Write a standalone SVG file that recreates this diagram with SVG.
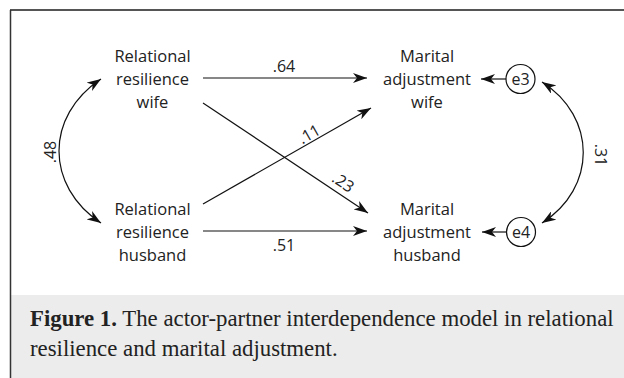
<svg xmlns="http://www.w3.org/2000/svg" width="624" height="378" viewBox="0 0 624 378">
<defs>
<style>
.n{font-family:"Open Sans","Noto Sans",sans-serif;font-size:16.5px;fill:#222;text-anchor:middle}
.l{font-family:"Open Sans","Noto Sans",sans-serif;font-size:16px;fill:#222;text-anchor:middle}
.c{stroke:#111;stroke-width:1.2;fill:none}
.cap{font-family:"Liberation Serif","Times New Roman",serif;font-size:22.8px;fill:#222}
</style>
<marker id="ah" viewBox="0 0 14 10" refX="14" refY="5" markerWidth="14" markerHeight="10" markerUnits="userSpaceOnUse" orient="auto-start-reverse">
<path d="M0,0 L14,5 L0,10 L4,5 z" fill="#111"/>
</marker>
</defs>
<rect x="0" y="0" width="624" height="378" fill="#fff"/>
<rect x="11" y="295" width="613" height="83" fill="#ececec"/>
<line x1="10" y1="10" x2="624" y2="10" stroke="#555" stroke-width="2"/>
<line x1="10.5" y1="10" x2="10.5" y2="378" stroke="#333" stroke-width="1.5"/>

<g id="rrw"><text class="n" x="152.5" y="62">Relational</text><text class="n" x="152.5" y="85">resilience</text><text class="n" x="152.5" y="108">wife</text></g>
<g id="rrh"><text class="n" x="152.5" y="215">Relational</text><text class="n" x="152.5" y="238">resilience</text><text class="n" x="152.5" y="261">husband</text></g>
<g id="maw"><text class="n" x="427" y="62">Marital</text><text class="n" x="427" y="85">adjustment</text><text class="n" x="427" y="108">wife</text></g>
<g id="mah"><text class="n" x="427" y="215">Marital</text><text class="n" x="427" y="238">adjustment</text><text class="n" x="427" y="261">husband</text></g>
<g id="e3"><circle cx="520.5" cy="79" r="14.5" fill="#fff" stroke="#111" stroke-width="1.2"/><text class="l" x="520.5" y="85">e3</text></g>
<g id="e4"><circle cx="521" cy="232" r="14.5" fill="#fff" stroke="#111" stroke-width="1.2"/><text class="l" x="521" y="238">e4</text></g>

<g id="connectors">
<line class="c" x1="203" y1="78" x2="367" y2="78" marker-end="url(#ah)"/>
<line class="c" x1="203" y1="231" x2="367" y2="231" marker-end="url(#ah)"/>
<line class="c" x1="203" y1="103" x2="368" y2="213" marker-end="url(#ah)"/>
<line class="c" x1="203" y1="204" x2="371" y2="108" marker-end="url(#ah)"/>
<line class="c" x1="506" y1="79" x2="481" y2="79" marker-end="url(#ah)"/>
<line class="c" x1="506.5" y1="232" x2="482" y2="232" marker-end="url(#ah)"/>
<path class="c" d="M101,79 C45,116 45,186 101,223" marker-start="url(#ah)" marker-end="url(#ah)"/>
<path class="c" d="M542,82 C597,117 597,188 542,223" marker-start="url(#ah)" marker-end="url(#ah)"/>
<text class="l" x="284" y="72">.64</text>
<text class="l" x="284" y="251">.51</text>
<text class="l" transform="translate(312,139) rotate(-29.7)" x="0" y="0">.11</text>
<text class="l" transform="translate(340,187) rotate(33.7)" x="0" y="0">.23</text>
<text class="l" transform="translate(56,152) rotate(-90)" x="0" y="0">.48</text>
<text class="l" transform="translate(595,155) rotate(90)" x="0" y="0">.31</text>
</g>

<g id="caption">
<text class="cap" x="30" y="326"><tspan font-weight="bold">Figure 1.</tspan> The actor-partner interdependence model in relational</text>
<text class="cap" x="30" y="356">resilience and marital adjustment.</text>
</g>
</svg>
